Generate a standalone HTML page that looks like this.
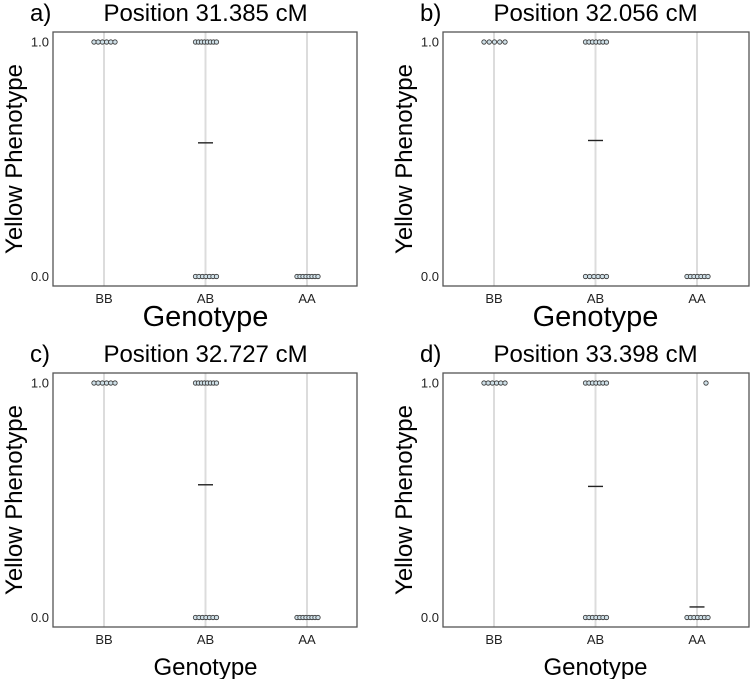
<!DOCTYPE html>
<html><head><meta charset="utf-8"><style>
html,body{margin:0;padding:0;background:#fff;}
svg{display:block;font-family:"Liberation Sans",sans-serif;}
</style></head><body>
<svg id="fig" width="750" height="679" viewBox="0 0 750 679"></svg>
<script>
const categories = ["BB","AB","AA"];
const panelLabels = ["a)","b)","c)","d)"];
const panelTitles = ["Position 31.385 cM","Position 32.056 cM","Position 32.727 cM","Position 33.398 cM"];
const yTicks = [0, 1];
const yTickLabels = ["0.0","1.0"];
// number of individuals with phenotype 1 / 0 per genotype (BB, AB, AA)
const countsOne = [[6,8,0],[5,7,0],[6,8,0],[6,7,1]];
const countsZero = [[0,7,8],[0,6,7],[0,7,8],[0,7,7]];
// group means per genotype (null = not drawn)
const means = [[null,0.57,null],[null,0.58,null],[null,0.566,null],[null,0.559,0.045]];

const svg = document.getElementById('fig');
const NS = 'http://www.w3.org/2000/svg';
function mk(tag, attrs, parent){
  const e = document.createElementNS(NS, tag);
  for (const k in attrs) e.setAttribute(k, attrs[k]);
  (parent||svg).appendChild(e);
  return e;
}
const panels = [
  {x0:53,x1:357,y0:32,y1:286,big:true},
  {x0:443,x1:749,y0:32,y1:286,big:true},
  {x0:53,x1:357,y0:373,y1:627,big:false},
  {x0:443,x1:749,y0:373,y1:627,big:false}
];
panels.forEach((p,pi)=>{
  const g = mk('g',{});
  
  
  const yTop = p.y0+10, yBot = p.y1-9.5;
  const yScale = v => yBot - v*(yBot-yTop);
  const xScale = i => p.x0 + 51 + i*101.5;
  const cx = (p.x0+p.x1)/2;
  // title
  const lab = mk('text',{x:p.x0-23,y:p.y0-11,'font-size':24,fill:'#000'},g);
  lab.textContent = panelLabels[pi];
  
  
  const t = mk('text',{x:xScale(1),y:p.y0-11,'font-size':24,'text-anchor':'middle',fill:'#000'},g);
  t.textContent = panelTitles[pi];
  
  
  // gridlines
  categories.forEach((c,i)=>{
    const l = mk('line',{x1:xScale(i),x2:xScale(i),y1:p.y0,y2:p.y1,stroke:'#dcdcdc','stroke-width':2},g);
    
    
  });
  // frame
  const r = mk('rect',{x:p.x0,y:p.y0,width:p.x1-p.x0,height:p.y1-p.y0,fill:'none',stroke:'#555','stroke-width':1.3},g);
  
  
  // y ticks
  yTicks.forEach((v,i)=>{
    const tt = mk('text',{x:p.x0-4,y:yScale(v)+4.5,'font-size':13,'text-anchor':'end',fill:'#222'},g);
    tt.textContent = yTickLabels[i];
    
    
  });
  // x ticks
  categories.forEach((c,i)=>{
    const tt = mk('text',{x:xScale(i),y:p.y1+17,'font-size':13,'text-anchor':'middle',fill:'#222'},g);
    tt.textContent = c;
    
    
  });
  // axis titles
  const yl = mk('text',{transform:`translate(${p.x0-31},${(p.y0+p.y1)/2}) rotate(-90)`,'font-size':24,'text-anchor':'middle',fill:'#000'},g);
  yl.textContent = 'Yellow Phenotype';
  
  
  const xl = mk('text',{x:xScale(1)+(p.big?0:0),y:p.big?p.y1+40:p.y1+48,'font-size':p.big?29:24,'text-anchor':'middle',fill:'#000'},g);
  xl.textContent = 'Genotype';
  
  
  // points
  function drawPts(n, i, v){
    for(let k=0;k<n;k++){
      const off = n===1 ? 9 : -10 + k*(21/(n-1));
      const c = mk('circle',{cx:xScale(i)+off,cy:yScale(v),r:2.2,fill:'#cfe0e8',stroke:'#333','stroke-width':0.8},g);
      
      
    }
  }
  categories.forEach((c,i)=>{
    drawPts(countsOne[pi][i], i, 1);
    drawPts(countsZero[pi][i], i, 0);
    const m = means[pi][i];
    if(m!==null){
      const ml = mk('line',{x1:xScale(i)-7.5,x2:xScale(i)+7.5,y1:yScale(m),y2:yScale(m),stroke:'#222','stroke-width':1.4},g);
      
      
    }
  });
});
</script>
</body></html>
